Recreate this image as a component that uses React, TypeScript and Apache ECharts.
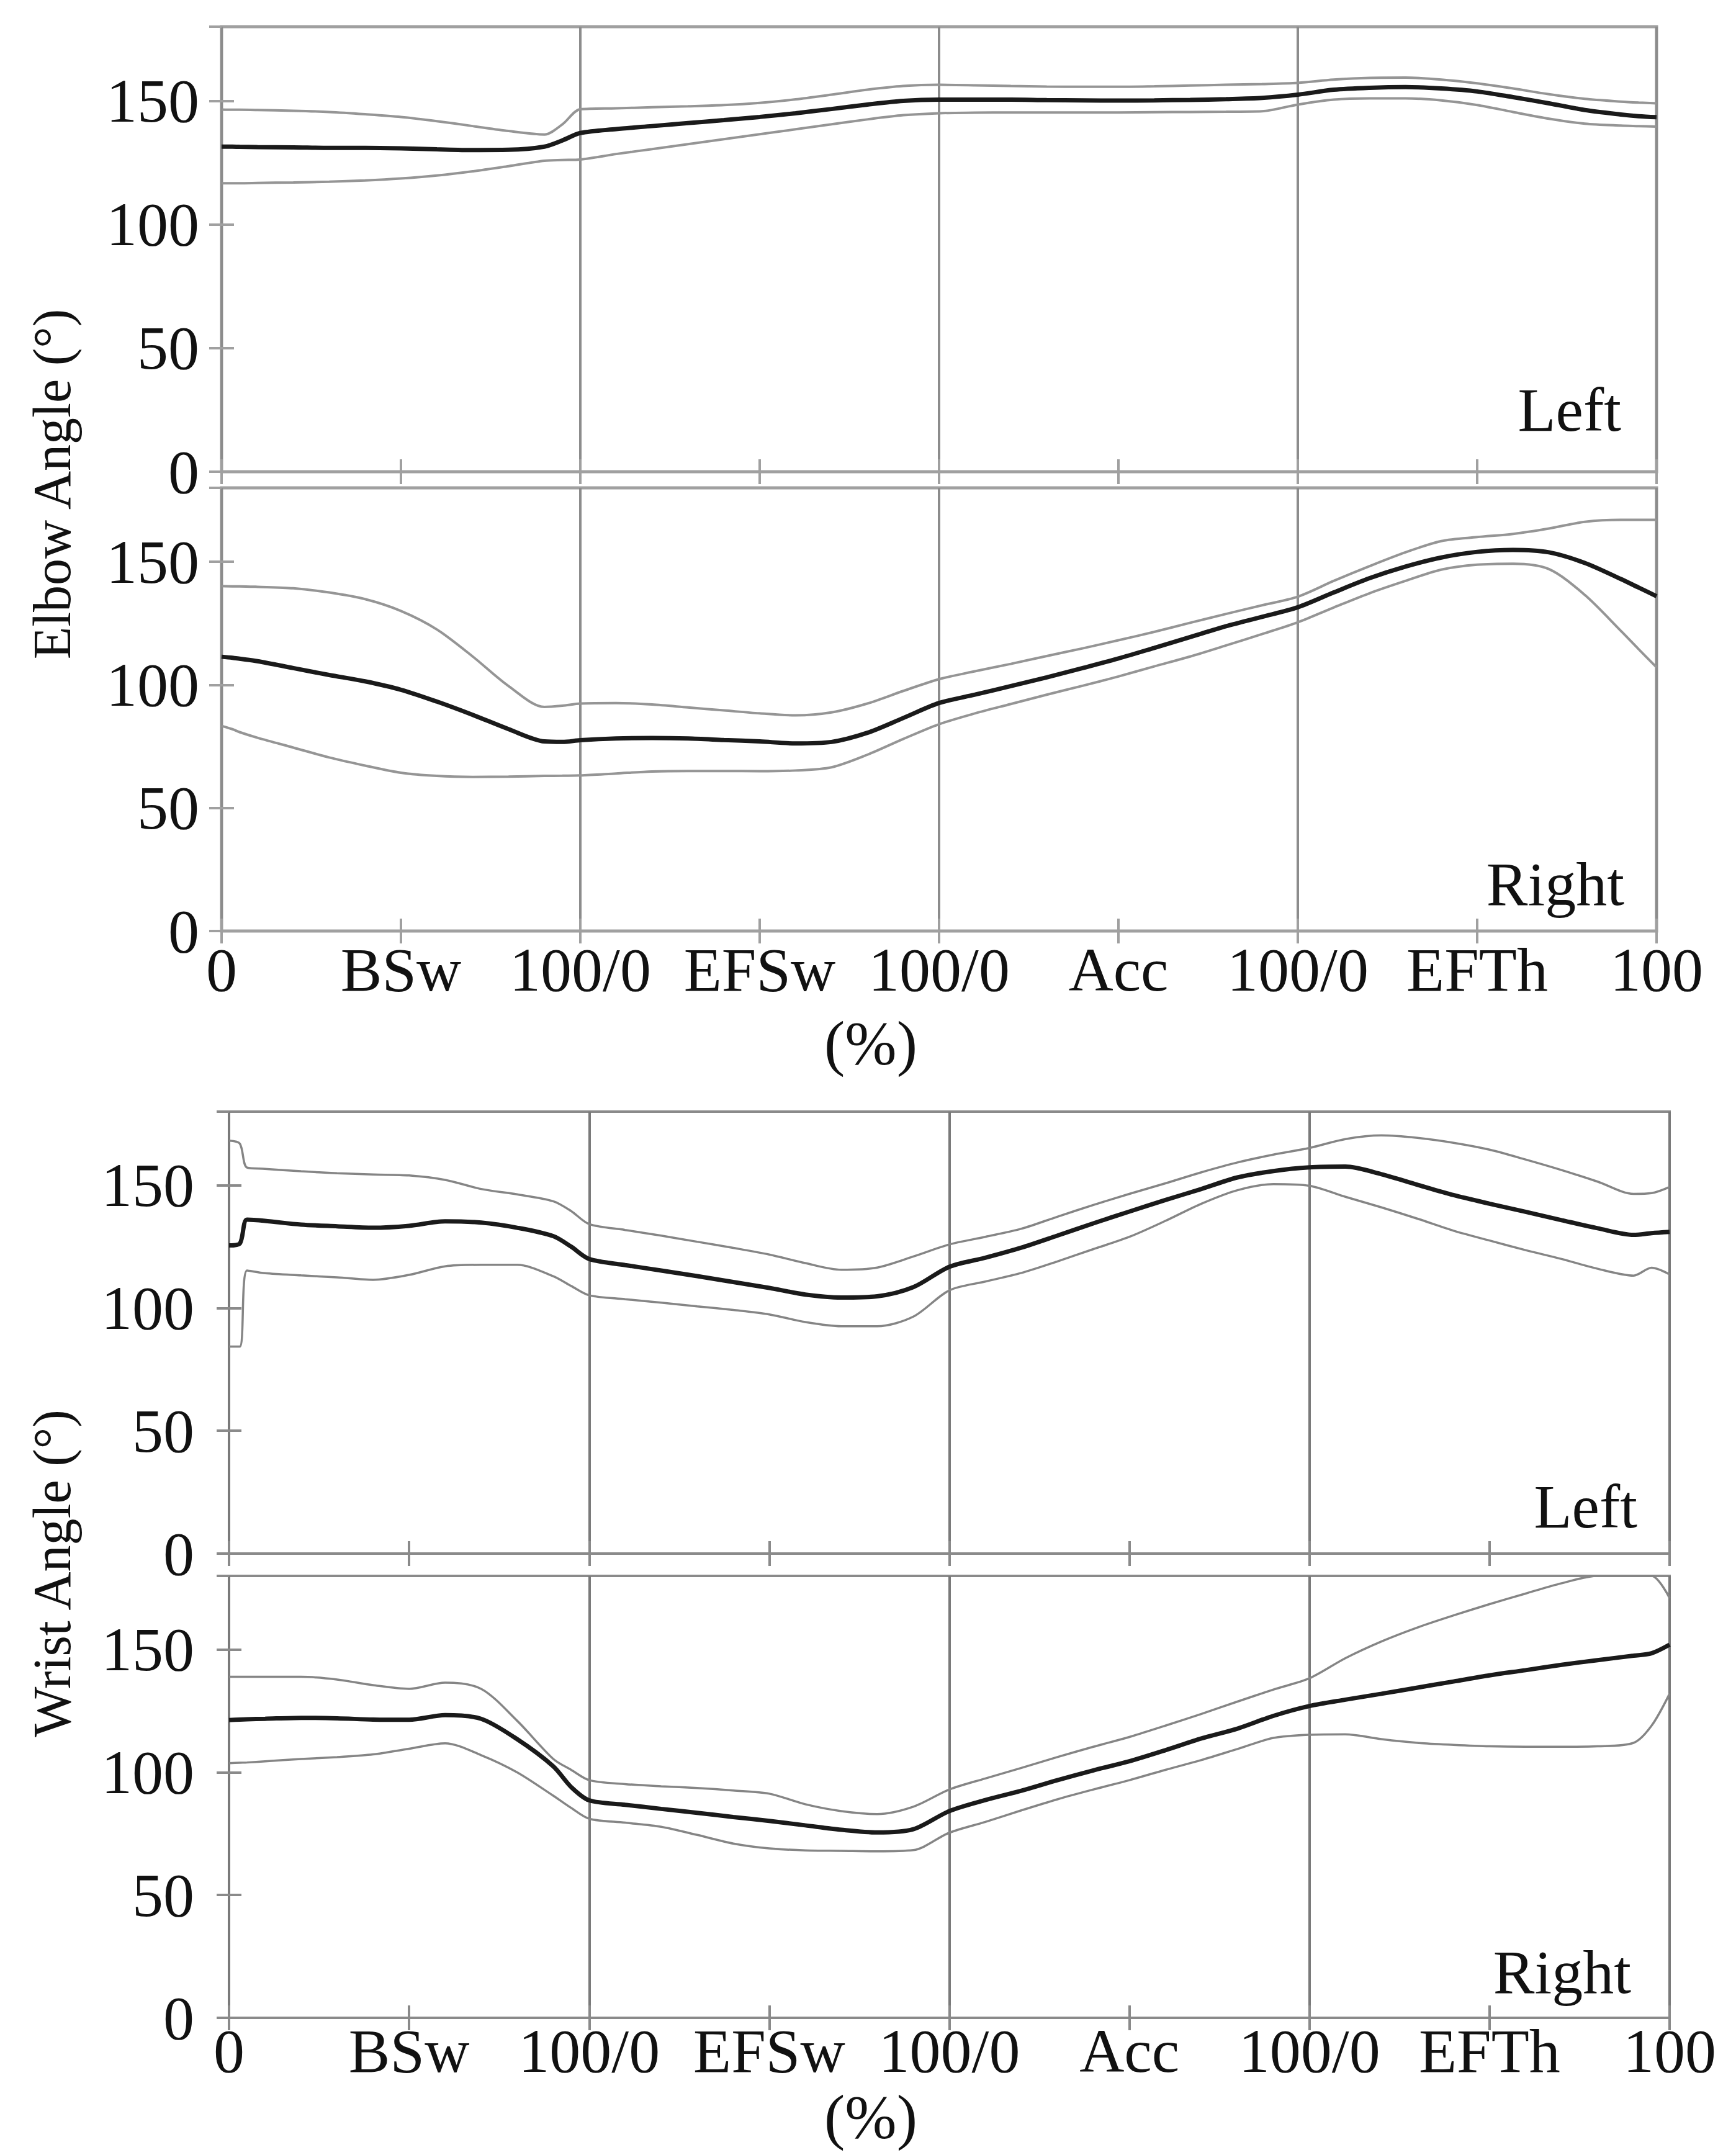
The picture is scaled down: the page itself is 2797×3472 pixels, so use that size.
import React, { useEffect, useRef } from "react";
import * as echarts from "echarts";

// ---------- data ----------
// x position in % of cycle, 4 phases of 0-100 laid end to end (0..400)
const X = [0, 3, 5, 10, 20, 30, 40, 50, 60, 70, 80, 90, 95, 100, 110, 120, 130, 140, 150, 160, 170, 180, 190, 200, 210, 220, 230, 240, 250, 260, 270, 280, 290, 300, 310, 320, 330, 340, 350, 360, 370, 380, 390, 395, 400];

const X_TICK_LABELS = ["0", "BSw", "100/0", "EFSw", "100/0", "Acc", "100/0", "EFTh", "100"];
const Y_TICKS = [0, 50, 100, 150];

// Elbow – Left
const EL_MEAN = [131.5, 131.5, 131.4, 131.3, 131.2, 131.0, 131.0, 130.8, 130.4, 130.1, 130.2, 131.5, 134.0, 137.0, 138.6, 139.8, 141.0, 142.2, 143.5, 145.0, 146.7, 148.5, 150.0, 150.5, 150.5, 150.5, 150.3, 150.2, 150.1, 150.2, 150.4, 150.7, 151.2, 152.5, 154.5, 155.3, 155.6, 155.0, 153.8, 151.5, 149.0, 146.3, 144.5, 143.8, 143.4];
const EL_UPPER = [146.5, 146.4, 146.4, 146.3, 146.0, 145.5, 144.6, 143.5, 141.8, 139.8, 137.8, 136.4, 140.5, 146.6, 147.0, 147.4, 147.8, 148.3, 149.2, 150.6, 152.5, 154.5, 156.0, 156.5, 156.3, 156.0, 155.8, 155.7, 155.7, 155.9, 156.2, 156.5, 156.8, 157.3, 158.6, 159.3, 159.4, 158.6, 157.1, 155.0, 152.7, 150.8, 149.7, 149.3, 149.0];
const EL_LOWER = [116.7, 116.7, 116.7, 116.8, 117.0, 117.3, 117.8, 118.6, 119.8, 121.5, 123.6, 125.8, 126.1, 126.3, 128.5, 130.5, 132.5, 134.5, 136.5, 138.5, 140.5, 142.5, 144.2, 145.0, 145.2, 145.3, 145.3, 145.3, 145.3, 145.4, 145.5, 145.6, 145.8, 148.5, 150.5, 151.0, 151.0, 150.2, 148.3, 145.5, 142.8, 140.8, 140.0, 139.8, 139.6];

// Elbow – Right
const ER_MEAN = [111.4, 111.0, 110.6, 109.6, 106.8, 104.0, 101.4, 98.0, 93.2, 87.8, 82.0, 77.0, 76.8, 77.5, 78.2, 78.4, 78.2, 77.6, 77.0, 76.2, 76.8, 80.5, 86.5, 92.6, 96.0, 99.5, 103.0, 106.8, 110.7, 115.0, 119.4, 123.8, 127.6, 131.5, 137.5, 143.3, 148.0, 151.7, 154.0, 154.8, 153.8, 149.5, 143.0, 139.5, 136.0];
const ER_UPPER = [140.1, 140.0, 140.0, 139.8, 139.2, 137.5, 134.8, 130.0, 122.5, 111.5, 99.5, 91.0, 91.5, 92.4, 92.6, 92.0, 90.8, 89.6, 88.4, 87.6, 88.8, 92.4, 97.5, 102.3, 105.5, 108.5, 111.7, 114.8, 118.1, 121.5, 125.2, 128.8, 132.3, 135.8, 142.2, 148.2, 153.8, 158.4, 160.0, 161.3, 163.5, 166.2, 167.0, 167.0, 167.0];
const ER_LOWER = [83.3, 82.0, 80.8, 78.5, 74.5, 70.5, 67.2, 64.3, 63.0, 62.6, 62.7, 63.0, 63.1, 63.2, 64.0, 64.8, 65.0, 65.0, 64.9, 65.2, 66.5, 71.6, 78.0, 84.0, 88.4, 92.2, 96.0, 99.6, 103.4, 107.5, 111.5, 116.0, 120.6, 125.4, 131.4, 137.2, 142.2, 146.8, 148.8, 149.2, 147.0, 136.5, 122.0, 114.5, 107.1];

// Wrist – Left
const WL_MEAN = [125.5, 126.3, 136.0, 135.5, 134.0, 133.3, 132.7, 133.5, 135.3, 134.8, 132.7, 129.3, 125.0, 120.0, 117.5, 115.3, 113.0, 110.6, 108.2, 105.5, 104.3, 104.8, 108.5, 116.8, 120.5, 124.6, 129.5, 134.5, 139.3, 144.0, 148.5, 153.2, 155.8, 157.3, 157.6, 154.5, 150.2, 146.0, 142.5, 139.2, 135.8, 132.5, 129.8, 130.5, 131.0];
const WL_UPPER = [168.2, 167.0, 157.2, 156.7, 155.7, 154.9, 154.4, 154.0, 152.2, 148.5, 146.3, 143.5, 139.5, 134.2, 131.8, 129.5, 127.0, 124.5, 121.8, 118.3, 115.6, 116.5, 121.0, 125.9, 129.0, 132.3, 137.2, 142.0, 146.5, 150.8, 155.3, 159.3, 162.5, 165.2, 168.8, 170.3, 169.3, 167.3, 164.5, 160.5, 156.2, 151.5, 146.5, 146.8, 149.3];
const WL_LOWER = [84.3, 84.3, 115.3, 114.2, 113.3, 112.5, 111.5, 113.5, 117.0, 117.6, 117.6, 113.0, 109.0, 105.2, 103.6, 102.2, 100.7, 99.2, 97.4, 94.3, 92.6, 92.6, 96.5, 107.2, 110.8, 114.3, 119.0, 124.0, 129.0, 135.5, 142.5, 148.0, 150.5, 149.8, 145.3, 141.0, 136.4, 131.5, 127.5, 123.6, 120.0, 116.0, 113.2, 116.4, 113.7];

// Wrist – Right
const WR_MEAN = [121.3, 121.5, 121.6, 121.8, 122.2, 122.0, 121.5, 121.4, 123.3, 121.8, 113.5, 102.5, 94.0, 88.6, 86.8, 85.1, 83.5, 81.8, 80.2, 78.4, 76.6, 75.5, 76.8, 84.2, 88.7, 92.5, 96.8, 100.8, 104.5, 109.0, 113.8, 117.8, 123.0, 127.0, 129.6, 132.0, 134.5, 137.0, 139.5, 141.6, 143.8, 145.7, 147.5, 148.5, 152.0];
const WR_UPPER = [138.9, 138.9, 138.9, 138.9, 138.9, 137.8, 135.5, 134.0, 136.5, 134.0, 121.0, 105.5, 101.0, 96.8, 95.2, 94.3, 93.6, 92.6, 91.3, 87.0, 84.2, 83.0, 86.0, 93.0, 97.5, 101.8, 106.2, 110.4, 114.4, 119.0, 123.8, 128.8, 133.7, 138.3, 146.5, 153.3, 159.0, 163.9, 168.5, 172.8, 177.0, 180.0, 180.0, 180.0, 171.0];
const WR_LOWER = [103.7, 103.9, 104.0, 104.5, 105.4, 106.2, 107.3, 109.6, 111.8, 107.0, 100.0, 90.5, 85.5, 81.1, 79.5, 77.8, 74.5, 71.0, 69.0, 68.2, 68.0, 67.8, 68.3, 75.4, 79.8, 84.5, 89.0, 93.0, 96.8, 101.0, 105.0, 109.5, 114.0, 115.3, 115.5, 113.5, 112.0, 111.2, 110.6, 110.4, 110.4, 110.6, 112.0, 119.0, 132.0];

const SIDE_LABELS = ["Left", "Right", "Left", "Right"];
const Y_TITLES = ["Elbow Angle (°)", "Wrist Angle (°)"];
const X_TITLE = "(%)";

// ---------- layout / style ----------
const FONT = "'Liberation Serif', 'Times New Roman', serif";
const TEXT = "#111";
const PANELS = [
  { box: { left: 357, top: 43, width: 2312, height: 717 }, mean: EL_MEAN, up: EL_UPPER, lo: EL_LOWER, showX: false, xMargin: 12, yMargin: 36, label: { x: 2612, y: 660 } },
  { box: { left: 357, top: 786, width: 2312, height: 714 }, mean: ER_MEAN, up: ER_UPPER, lo: ER_LOWER, showX: true, xMargin: 12, yMargin: 36, label: { x: 2617, y: 1424 } },
  { box: { left: 369, top: 1791, width: 2321, height: 712 }, mean: WL_MEAN, up: WL_UPPER, lo: WL_LOWER, showX: false, xMargin: 3, yMargin: 56, label: { x: 2638, y: 2427 } },
  { box: { left: 369, top: 2539, width: 2321, height: 712 }, mean: WR_MEAN, up: WR_UPPER, lo: WR_LOWER, showX: true, xMargin: 3, yMargin: 56, label: { x: 2628, y: 3177 } },
];

function pairs(ys: number[]) {
  return X.map((x, i) => [x, ys[i]]);
}

function buildOption() {
  const grid: any[] = [];
  const xAxis: any[] = [];
  const yAxis: any[] = [];
  const series: any[] = [];
  const graphic: any[] = [];

  PANELS.forEach((p, i) => {
    const isWrist = i >= 2;
    const frame = isWrist ? "#8a8a8a" : "#a0a0a0";
    const sdColor = isWrist ? "#858585" : "#959595";
    grid.push({
      ...p.box,
      show: true,
      borderColor: frame,
      borderWidth: isWrist ? 4 : 5,
      backgroundColor: "transparent",
      containLabel: false,
    });
    const tick = { show: true, inside: true, length: 20, lineStyle: { color: frame, width: 4 } };
    xAxis.push({
      gridIndex: i,
      type: "value",
      min: 0,
      max: 400,
      interval: 50,
      position: "bottom",
      axisLine: { show: false },
      axisTick: tick,
      splitLine: {
        show: true,
        lineStyle: { color: [isWrist ? "#7a7a7a" : "#8c8c8c", "rgba(0,0,0,0)"], width: 4, type: "solid" },
      },
      axisLabel: {
        show: p.showX,
        formatter: (v: number) => X_TICK_LABELS[Math.round(v / 50)] ?? "",
        fontFamily: FONT,
        fontSize: 100,
        color: TEXT,
        margin: p.xMargin,
        showMinLabel: true,
        showMaxLabel: true,
      },
    });
    xAxis.push({
      gridIndex: i,
      type: "value",
      min: 0,
      max: 400,
      interval: 50,
      position: "top",
      axisLine: { show: false },
      axisTick: tick,
      splitLine: { show: false },
      axisLabel: { show: false },
    });
    yAxis.push({
      gridIndex: i,
      type: "value",
      min: 0,
      max: 180,
      interval: 50,
      position: "left",
      axisLine: { show: false },
      axisTick: tick,
      splitLine: { show: false },
      axisLabel: {
        show: true,
        showMaxLabel: false,
        formatter: (v: number) => (Y_TICKS.includes(v) ? String(v) : ""),
        fontFamily: FONT,
        fontSize: 100,
        color: TEXT,
        margin: p.yMargin,
      },
    });
    yAxis.push({
      gridIndex: i,
      type: "value",
      min: 0,
      max: 180,
      interval: 50,
      position: "right",
      axisLine: { show: false },
      axisTick: tick,
      splitLine: { show: false },
      axisLabel: { show: false },
    });

    const xi = i * 2;
    const yi = i * 2;
    const common = {
      type: "line",
      xAxisIndex: xi,
      yAxisIndex: yi,
      showSymbol: false,
      symbol: "none",
      smooth: 0.3,
      clip: true,
      silent: true,
    };
    series.push({ ...common, name: `upper${i}`, data: pairs(p.up), lineStyle: { color: sdColor, width: isWrist ? 3.5 : 4 }, z: 2 });
    series.push({ ...common, name: `lower${i}`, data: pairs(p.lo), lineStyle: { color: sdColor, width: isWrist ? 3.5 : 4 }, z: 2 });
    series.push({ ...common, name: `mean${i}`, data: pairs(p.mean), lineStyle: { color: "#1a1a1a", width: 7 }, z: 3 });

    graphic.push({
      type: "text",
      x: p.label.x,
      y: p.label.y,
      style: {
        text: SIDE_LABELS[i],
        font: `100px ${FONT}`,
        fill: TEXT,
        textAlign: "right",
        textVerticalAlign: "middle",
      },
      z: 10,
    });
  });

  // y-axis titles (rotated)
  graphic.push({
    type: "text",
    x: 84,
    y: 780,
    rotation: Math.PI / 2,
    style: { text: Y_TITLES[0], font: `86px ${FONT}`, fill: TEXT, textAlign: "center", textVerticalAlign: "middle" },
  });
  graphic.push({
    type: "text",
    x: 84,
    y: 2535,
    rotation: Math.PI / 2,
    style: { text: Y_TITLES[1], font: `86px ${FONT}`, fill: TEXT, textAlign: "center", textVerticalAlign: "middle" },
  });
  // x-axis titles
  graphic.push({
    type: "text",
    x: 1403,
    y: 1680,
    style: { text: X_TITLE, font: `100px ${FONT}`, fill: TEXT, textAlign: "center", textVerticalAlign: "middle" },
  });
  graphic.push({
    type: "text",
    x: 1403,
    y: 3410,
    style: { text: X_TITLE, font: `100px ${FONT}`, fill: TEXT, textAlign: "center", textVerticalAlign: "middle" },
  });

  return {
    animation: false,
    backgroundColor: "#ffffff",
    grid,
    xAxis,
    yAxis,
    series,
    graphic,
  };
}

export default function App() {
  const ref = useRef<HTMLDivElement | null>(null);
  useEffect(() => {
    if (!ref.current) return;
    const chart = echarts.init(ref.current, undefined, { renderer: "svg", width: 2797, height: 3472 });
    chart.setOption(buildOption() as any);
    return () => {
      chart.dispose();
    };
  }, []);
  return (
    <div
      ref={ref}
      style={{ position: "absolute", left: 0, top: 0, width: 2797, height: 3472, background: "#fff" }}
    />
  );
}
